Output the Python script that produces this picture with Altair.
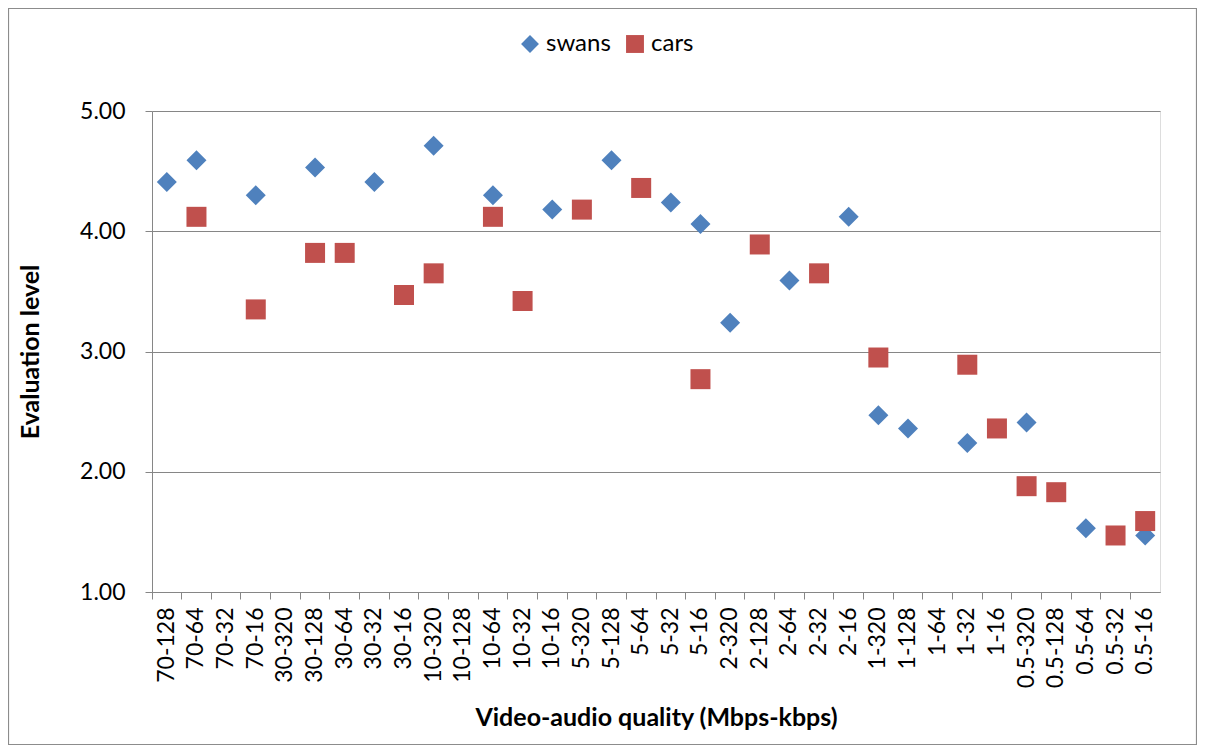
import altair as alt
import pandas as pd

categories = ["70-128", "70-64", "70-32", "70-16", "30-320", "30-128", "30-64", "30-32", "30-16",
              "10-320", "10-128", "10-64", "10-32", "10-16", "5-320", "5-128", "5-64", "5-32", "5-16",
              "2-320", "2-128", "2-64", "2-32", "2-16", "1-320", "1-128", "1-64", "1-32", "1-16",
              "0.5-320", "0.5-128", "0.5-64", "0.5-32", "0.5-16"]

swans = [4.41, 4.59, None, 4.30, None, 4.53, None, 4.41, None, 4.71, None, 4.30, None, 4.18, None,
         4.59, None, 4.24, 4.06, 3.24, None, 3.59, None, 4.12, 2.47, 2.36, None, 2.24, None, 2.41,
         None, 1.53, None, 1.47]

cars = [None, 4.12, None, 3.35, None, 3.82, 3.82, None, 3.47, 3.65, None, 4.12, 3.42, None, 4.18,
        None, 4.36, None, 2.77, None, 3.89, None, 3.65, None, 2.95, None, None, 2.89, 2.36, 1.88,
        1.83, None, 1.47, 1.59]

series_names = ["swans", "cars"]
series_colors = ["#4F81BD", "#C0504D"]
series_shapes = ["diamond", "square"]

rows = []
for name, vals in zip(series_names, [swans, cars]):
    for c, v in zip(categories, vals):
        if v is not None:
            rows.append({"quality": c, "series": name, "value": v})
df = pd.DataFrame(rows)

FONT = "Lato"
GRID = "#868686"
W, H = 1008, 481

points = alt.Chart(df).mark_point(filled=True, opacity=1, size=400).encode(
    x=alt.X("quality:N", sort=categories,
            scale=alt.Scale(type="band", domain=categories, paddingInner=0, paddingOuter=0),
            axis=alt.Axis(title="Video-audio quality (Mbps-kbps)", labelAngle=-90,
                          labelAlign="right", labelBaseline="middle",
                          bandPosition=0, tickSize=7, labelPadding=8,
                          domainColor=GRID, tickColor=GRID, grid=False,
                          labelFontSize=23, labelFont=FONT, labelColor="#000000",
                          titleFont=FONT, titleFontSize=25, titleFontWeight="bold",
                          titleColor="#000000", titleX=W / 2, titleY=125,
                          titleBaseline="middle", titleAlign="center")),
    y=alt.Y("value:Q",
            scale=alt.Scale(domain=[1, 5], nice=False, zero=False),
            axis=alt.Axis(title="Evaluation level", values=[1, 2, 3, 4, 5], format=".2f",
                          tickSize=7, labelPadding=20, domainColor=GRID, tickColor=GRID,
                          gridColor=GRID, gridWidth=1.2, labelFontSize=23, labelFont=FONT,
                          labelColor="#000000", titleFont=FONT, titleFontSize=25,
                          titleFontWeight="bold", titleColor="#000000", titleAngle=-90,
                          titleX=-122, titleY=H / 2, titleAlign="center",
                          titleBaseline="middle")),
    color=alt.Color("series:N", scale=alt.Scale(domain=series_names, range=series_colors),
                    legend=alt.Legend(title=None, orient="none", direction="horizontal",
                                      legendX=366, legendY=-79, labelFont=FONT,
                                      labelFontSize=24, labelColor="#000000",
                                      symbolSize=320, symbolStrokeWidth=0,
                                      columnPadding=12, labelOffset=4)),
    shape=alt.Shape("series:N", scale=alt.Scale(domain=series_names, range=series_shapes),
                    legend=alt.Legend(title=None, orient="none", direction="horizontal",
                                      legendX=366, legendY=-79)),
)

frame = alt.Chart(alt.Data(values=[{}])).mark_rect(
    fill=None, stroke="#8C8C8C", strokeWidth=1.2
).encode(
    x=alt.value(-143.5), x2=alt.value(1044.5),
    y=alt.value(-102.5), y2=alt.value(633.5),
)

chart = alt.layer(frame, points).properties(
    width=W, height=H,
    autosize=alt.AutoSizeParams(type="none"),
    padding={"left": 144, "top": 103, "right": 37, "bottom": 153},
).configure_view(stroke=None).configure(background="#ffffff")

chart.save("out.html", embed_options={"renderer": "svg", "actions": False})
